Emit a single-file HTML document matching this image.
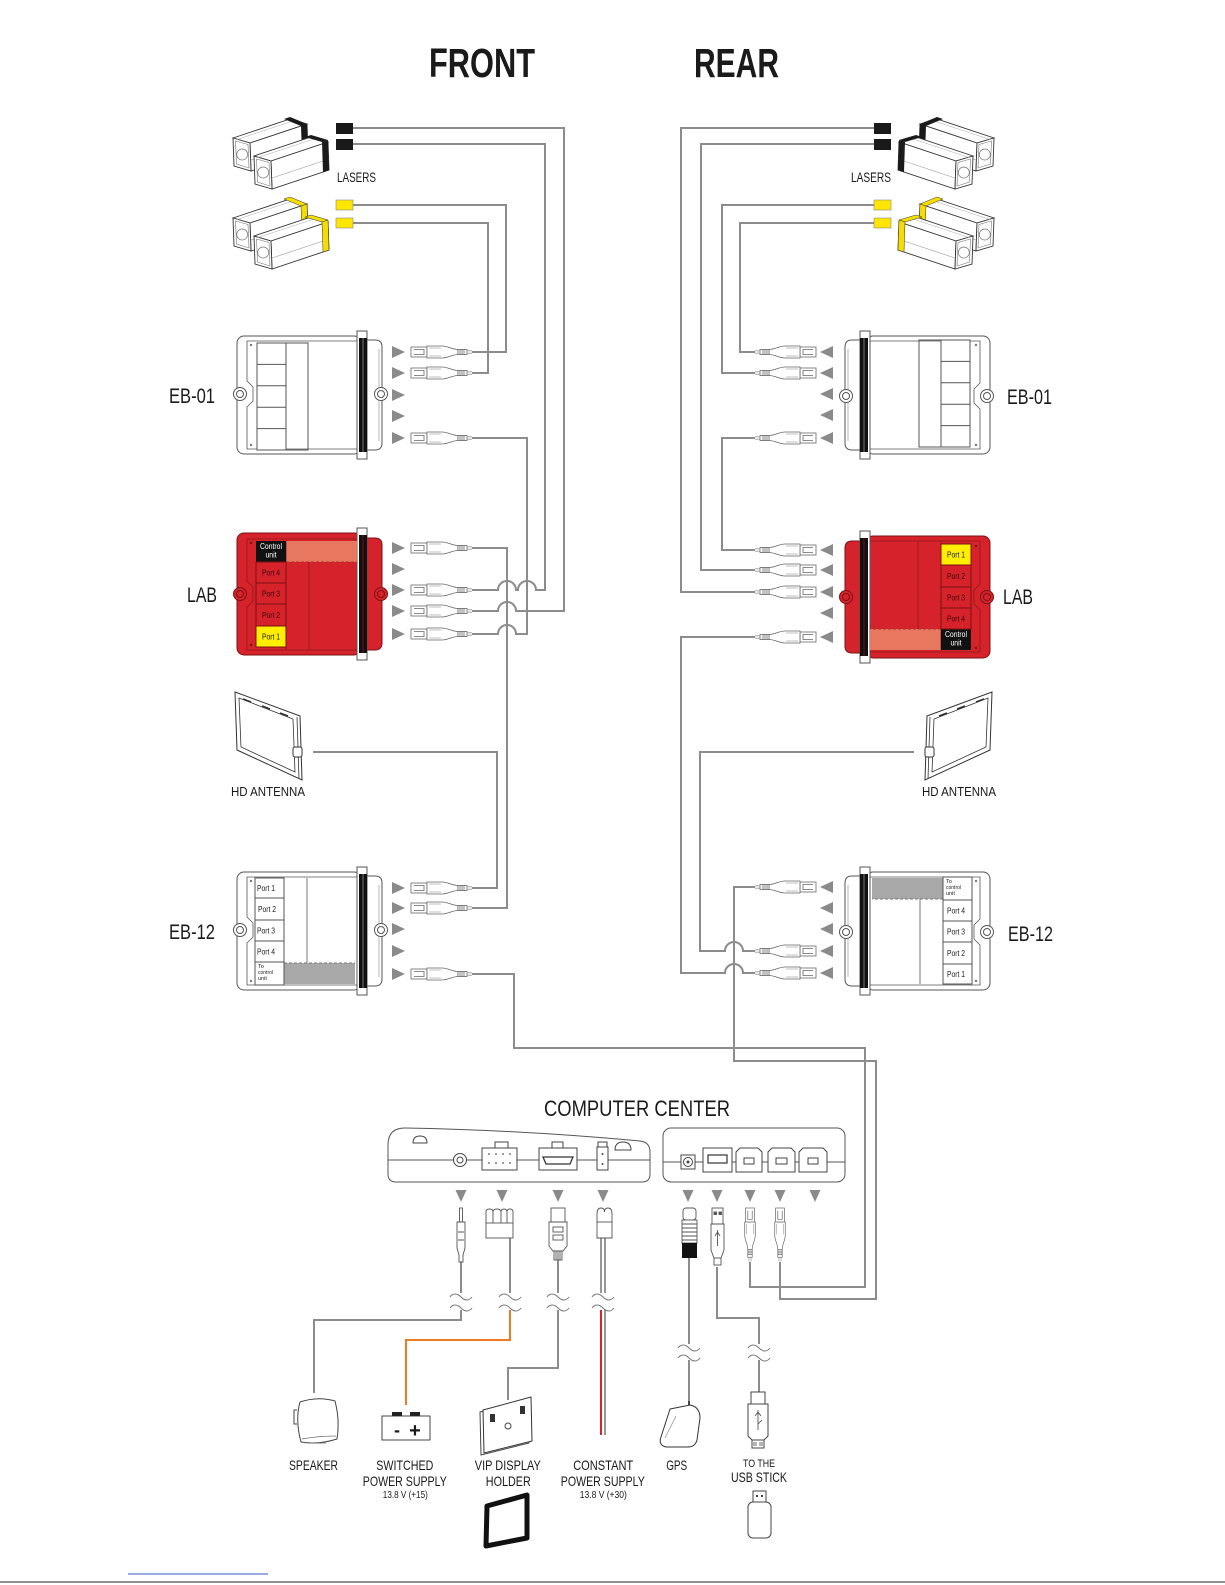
<!DOCTYPE html>
<html><head><meta charset="utf-8">
<style>
html,body{margin:0;padding:0;background:#fff;}
svg{display:block;}
text{font-family:"Liberation Sans",sans-serif;fill:#1a1a1a;}
.ln{fill:none;stroke:#8c8c8c;stroke-width:2;}
.tl{fill:none;stroke:#777;stroke-width:1;}
</style></head><body>
<svg width="1225" height="1585" viewBox="0 0 1225 1585" xmlns="http://www.w3.org/2000/svg">
<defs>
 <g id="laserOne">
  <polygon points="0,0 57,-19 74,-14 17,5" fill="#fff" stroke="#333" stroke-width="0.9"/>
  <polygon points="17,5 74,-14 75,14 18,33" fill="#fff" stroke="#333" stroke-width="0.9"/>
  <polygon points="0,0 17,5 18,33 1,28" fill="#fff" stroke="#333" stroke-width="0.9"/>
  <polygon points="2.5,3 15,6.5 16,30 3.5,26" fill="none" stroke="#777" stroke-width="0.6"/>
  <circle cx="9.2" cy="16.5" r="5.5" fill="none" stroke="#777" stroke-width="0.7"/>
  <line x1="18" y1="22" x2="75" y2="3" stroke="#999" stroke-width="0.6"/>
  <line x1="4" y1="1.5" x2="60" y2="-17" stroke="#aaa" stroke-width="0.5"/>
 </g>
 <g id="conn" stroke="#666" stroke-width="0.8">
  <rect x="0" y="-5" width="16" height="10" fill="#fff"/>
  <path d="M3,-2.5 H13 V2.5 H3" fill="none"/>
  <path d="M16,-6 H31 C37,-6 41,-2.5 47,-2.5 V2.5 C41,2.5 37,6 31,6 H16 Z" fill="#fff"/>
  <path d="M18,-4 H30 M18,4 H30" fill="none" stroke="#aaa"/>
  <rect x="47" y="-2.5" width="9" height="5" fill="#fff"/>
  <path d="M49,-2.5 V2.5 M51,-2.5 V2.5 M53,-2.5 V2.5" fill="none"/>
  <path d="M56,-1.2 H61 M56,1.2 H61" fill="none" stroke="#999"/>
 </g>
 <polygon id="arr" points="0,-6 0,6 13,0" fill="#8a8a8a"/>
 <polygon id="darr" points="-5.5,0 5.5,0 0,12" fill="#8a8a8a"/>
 <path id="tilde" d="M-11,1 c3,-4 7,-4 11,0 s8,4 11,0" fill="none" stroke="#777" stroke-width="1"/>
 <g id="ebshell">
  <rect x="4" y="1" width="124" height="118" rx="7" fill="#fff" stroke="#555"/>
  <path d="M128,5 H142 Q149,5 149,12 V108 Q149,115 142,115 H128" fill="#fff" stroke="#555"/>
  <line x1="146" y1="14" x2="146" y2="106" stroke="#999" stroke-width="0.7"/>
  <circle cx="7" cy="59" r="6.5" fill="#fff" stroke="#555"/><circle cx="7" cy="59" r="3.5" fill="none" stroke="#555"/>
  <circle cx="148" cy="59" r="6.5" fill="#fff" stroke="#555"/><circle cx="148" cy="59" r="3.5" fill="none" stroke="#555"/>
  <path d="M14,6 V46 L20,52 V66 L14,72 V114 H124 V6 Z" fill="none" stroke="#555" stroke-width="0.8"/>
  <rect x="124" y="-4" width="10" height="128" fill="#fff" stroke="#555"/>
  <rect x="126" y="3" width="8" height="114" fill="#111"/>
  <line x1="130" y1="3" x2="130" y2="117" stroke="#777"/>
  <circle cx="18" cy="10" r="1.2" fill="#777"/><circle cx="18" cy="110" r="1.2" fill="#777"/>
 </g>
 <g id="labshell">
  <rect x="4" y="0" width="124" height="122" rx="7" fill="#d6232b" stroke="#7a1216"/>
  <path d="M128,5 H142 Q149,5 149,12 V110 Q149,117 142,117 H128" fill="#d6232b" stroke="#7a1216"/>
  <circle cx="7" cy="61" r="6.5" fill="#d6232b" stroke="#7a1216"/><circle cx="7" cy="61" r="3.5" fill="none" stroke="#7a1216"/>
  <circle cx="148" cy="61" r="6.5" fill="#d6232b" stroke="#7a1216"/><circle cx="148" cy="61" r="3.5" fill="none" stroke="#7a1216"/>
  <path d="M14,6 V48 L20,54 V68 L14,74 V117 H124 V6 Z" fill="none" stroke="#8a1a1a" stroke-width="0.8"/>
  <rect x="124" y="-5" width="10" height="132" fill="#fff" stroke="#555"/>
  <rect x="126" y="2" width="8" height="118" fill="#111"/>
  <line x1="130" y1="2" x2="130" y2="120" stroke="#6a1010"/>
  <circle cx="18" cy="10" r="1.2" fill="#7a1216"/><circle cx="18" cy="112" r="1.2" fill="#7a1216"/>
 </g>
 <g id="antenna">
  <polygon points="235,692 300,716 302,780 237,750" fill="#fff" stroke="#333" stroke-width="1"/>
  <polygon points="239,698 293,719 295,772 241,747" fill="#fff" stroke="#333" stroke-width="0.8"/>
  <line x1="297" y1="717" x2="299" y2="779" stroke="#333" stroke-width="0.8"/>
  <path d="M243,699 l8,3 M262,706 l8,3 M280,713 l8,3" stroke="#333" stroke-width="1.5"/>
  <rect x="293" y="747" width="9" height="10" rx="2" fill="#fff" stroke="#333"/>
 </g>
</defs>

<!-- titles -->
<text x="429" y="77" font-size="41" font-weight="bold" textLength="106" lengthAdjust="spacingAndGlyphs">FRONT</text>
<text x="694" y="77" font-size="41" font-weight="bold" textLength="85" lengthAdjust="spacingAndGlyphs">REAR</text>

<!-- wiring lines -->
<path class="ln" d="M353,205 H506 V352 H472"/>
<path class="ln" d="M353,223 H488 V373 H472"/>
<path class="ln" d="M353,128 H564 V611 H516 A9,9 0 0 0 498,611 H472"/>
<path class="ln" d="M353,144 H545 V590 H536 A9,9 0 0 0 518,590 H516 A9,9 0 0 0 498,590 H472"/>
<path class="ln" d="M472,438 H527 V634 H516 A9,9 0 0 0 498,634 H472"/>
<path class="ln" d="M472,548 H507 V908 H472"/>
<path class="ln" d="M313,752 H497 V888 H472"/>
<path class="ln" d="M472,974 H514 V1048 H865 V1287 H750 V1262"/>

<path class="ln" d="M874,128 H681 V592 H755"/>
<path class="ln" d="M874,144 H701 V570 H755"/>
<path class="ln" d="M874,205 H722 V373 H755"/>
<path class="ln" d="M874,223 H740 V352 H755"/>
<path class="ln" d="M755,438 H722 V550 H755"/>
<path class="ln" d="M755,973 H743 A9,9 0 0 0 725,973 H681 V637 H755"/>
<path class="ln" d="M755,951 H743 A9,9 0 0 0 725,951 H700 V752 H914"/>
<path class="ln" d="M755,887 H734 V1061 H876 V1299 H780 V1262"/>

<!-- front lasers -->
<g id="frontLasers">
 <use href="#laserOne" transform="translate(233,138)"/>
 <polygon points="284,119 290,117 307,124 301,126" fill="#1a1a1a"/>
 <polygon points="301,126 307,124 308,152 302,154" fill="#1a1a1a"/>
 <use href="#laserOne" transform="translate(254,156)"/>
 <polygon points="305,137 311,135 328,140 322,142" fill="#1a1a1a"/>
 <polygon points="322,142 328,140 329,170 323,172" fill="#1a1a1a"/>
 <rect x="336" y="123" width="17" height="11" fill="#1a1a1a"/>
 <rect x="336" y="139" width="17" height="11" fill="#1a1a1a"/>
 <g transform="translate(0,80)">
  <use href="#laserOne" transform="translate(233,138)"/>
  <polygon points="284,119 290,117 307,124 301,126" fill="#f5dd00" stroke="#333" stroke-width="0.5"/>
  <polygon points="301,126 307,124 308,152 302,154" fill="#f5dd00" stroke="#333" stroke-width="0.5"/>
  <use href="#laserOne" transform="translate(254,156)"/>
  <polygon points="305,137 311,135 328,140 322,142" fill="#f5dd00" stroke="#333" stroke-width="0.5"/>
  <polygon points="322,142 328,140 329,170 323,172" fill="#f5dd00" stroke="#333" stroke-width="0.5"/>
  <rect x="336" y="120" width="17" height="10" fill="#ffe600" stroke="#888" stroke-width="0.6"/>
  <rect x="336" y="138" width="17" height="10" fill="#ffe600" stroke="#888" stroke-width="0.6"/>
 </g>
</g>
<g transform="matrix(-1,0,0,1,1227,0)">
 <use href="#frontLasers"/>
</g>
<text x="337" y="182" font-size="14" textLength="39" lengthAdjust="spacingAndGlyphs">LASERS</text>
<text x="851" y="182" font-size="14" textLength="40" lengthAdjust="spacingAndGlyphs">LASERS</text>

<!-- antennas -->
<use href="#antenna"/>
<g transform="matrix(-1,0,0,1,1227,0)"><use href="#antenna"/></g>
<text x="231" y="796" font-size="13" textLength="74" lengthAdjust="spacingAndGlyphs">HD ANTENNA</text>
<text x="922" y="796" font-size="13" textLength="74" lengthAdjust="spacingAndGlyphs">HD ANTENNA</text>

<!-- FRONT EB-01 -->
<g transform="translate(233,335)">
 <use href="#ebshell"/>
 <rect x="24" y="8" width="29" height="107" fill="#fff" stroke="#555"/>
 <path d="M24,29.4 H53 M24,50.8 H53 M24,72.2 H53 M24,93.6 H53" stroke="#555"/>
 <rect x="53" y="8" width="22" height="107" fill="none" stroke="#555"/>
</g>
<!-- REAR EB-01 -->
<g transform="translate(994,455) rotate(180)">
 <use href="#ebshell"/>
 <rect x="24" y="8" width="29" height="107" fill="#fff" stroke="#555"/>
 <path d="M24,29.4 H53 M24,50.8 H53 M24,72.2 H53 M24,93.6 H53" stroke="#555"/>
 <rect x="53" y="8" width="22" height="107" fill="none" stroke="#555"/>
</g>

<!-- FRONT LAB -->
<g transform="translate(233,533)">
 <use href="#labshell"/>
 <rect x="53" y="8" width="71" height="21" fill="#e8775f"/>
 <line x1="53" y1="29" x2="124" y2="29" stroke="#a33" stroke-dasharray="3,2"/>
 <line x1="76" y1="29" x2="76" y2="117" stroke="#8a1a1a" stroke-width="0.8"/>
 <line x1="53" y1="8" x2="53" y2="117" stroke="#8a1a1a" stroke-width="0.8"/>
 <rect x="23" y="8" width="30" height="21" fill="#111"/>
 <rect x="23" y="29" width="30" height="21" fill="#d6232b" stroke="#7a1216"/>
 <rect x="23" y="50" width="30" height="21" fill="#d6232b" stroke="#7a1216"/>
 <rect x="23" y="71" width="30" height="22" fill="#d6232b" stroke="#7a1216"/>
 <rect x="23" y="93" width="30" height="21" fill="#ffee00" stroke="#7a1216"/>
</g>
<!-- REAR LAB -->
<g transform="translate(994,658) rotate(180)">
 <use href="#labshell"/>
 <rect x="53" y="8" width="71" height="21" fill="#e8775f"/>
 <line x1="53" y1="29" x2="124" y2="29" stroke="#a33" stroke-dasharray="3,2"/>
 <line x1="76" y1="29" x2="76" y2="117" stroke="#8a1a1a" stroke-width="0.8"/>
 <line x1="53" y1="8" x2="53" y2="117" stroke="#8a1a1a" stroke-width="0.8"/>
 <rect x="23" y="8" width="30" height="21" fill="#111"/>
 <rect x="23" y="29" width="30" height="21" fill="#d6232b" stroke="#7a1216"/>
 <rect x="23" y="50" width="30" height="21" fill="#d6232b" stroke="#7a1216"/>
 <rect x="23" y="71" width="30" height="22" fill="#d6232b" stroke="#7a1216"/>
 <rect x="23" y="93" width="30" height="21" fill="#ffee00" stroke="#7a1216"/>
</g>

<!-- FRONT EB-12 -->
<g transform="translate(233,871)">
 <use href="#ebshell"/>
 <rect x="51" y="92" width="71" height="21" fill="#a8a8a8"/>
 <line x1="51" y1="92" x2="122" y2="92" stroke="#777" stroke-dasharray="3,2"/>
 <line x1="74" y1="7" x2="74" y2="92" stroke="#555" stroke-width="0.8"/>
 <rect x="22" y="7" width="29" height="20" fill="#fff" stroke="#555"/>
 <rect x="22" y="27" width="29" height="22" fill="#fff" stroke="#555"/>
 <rect x="22" y="49" width="29" height="21" fill="#fff" stroke="#555"/>
 <rect x="22" y="70" width="29" height="21" fill="#fff" stroke="#555"/>
 <rect x="22" y="91" width="29" height="23" fill="#fff" stroke="#555"/>
</g>
<!-- REAR EB-12 -->
<g transform="translate(994,991) rotate(180)">
 <use href="#ebshell"/>
 <rect x="51" y="92" width="71" height="21" fill="#a8a8a8"/>
 <line x1="51" y1="92" x2="122" y2="92" stroke="#777" stroke-dasharray="3,2"/>
 <line x1="74" y1="7" x2="74" y2="92" stroke="#555" stroke-width="0.8"/>
 <rect x="22" y="7" width="29" height="20" fill="#fff" stroke="#555"/>
 <rect x="22" y="27" width="29" height="22" fill="#fff" stroke="#555"/>
 <rect x="22" y="49" width="29" height="21" fill="#fff" stroke="#555"/>
 <rect x="22" y="70" width="29" height="21" fill="#fff" stroke="#555"/>
 <rect x="22" y="91" width="29" height="23" fill="#fff" stroke="#555"/>
</g>

<!-- cell labels front LAB -->
<g font-size="8" text-anchor="middle">
 <text x="271" y="549" fill="#fff" style="fill:#fff" textLength="22" lengthAdjust="spacingAndGlyphs">Control</text>
 <text x="271" y="557.5" style="fill:#fff" textLength="11" lengthAdjust="spacingAndGlyphs">unit</text>
 <text x="271" y="575.5" style="fill:#3a0808" textLength="18" lengthAdjust="spacingAndGlyphs">Port 4</text>
 <text x="271" y="596.5" style="fill:#3a0808" textLength="18" lengthAdjust="spacingAndGlyphs">Port 3</text>
 <text x="271" y="618" style="fill:#3a0808" textLength="18" lengthAdjust="spacingAndGlyphs">Port 2</text>
 <text x="271" y="639.5" textLength="18" lengthAdjust="spacingAndGlyphs">Port 1</text>
 <!-- rear LAB -->
 <text x="956" y="557.5" textLength="18" lengthAdjust="spacingAndGlyphs">Port 1</text>
 <text x="956" y="579" style="fill:#3a0808" textLength="18" lengthAdjust="spacingAndGlyphs">Port 2</text>
 <text x="956" y="600.5" style="fill:#3a0808" textLength="18" lengthAdjust="spacingAndGlyphs">Port 3</text>
 <text x="956" y="621.5" style="fill:#3a0808" textLength="18" lengthAdjust="spacingAndGlyphs">Port 4</text>
 <text x="956" y="637" style="fill:#fff" textLength="22" lengthAdjust="spacingAndGlyphs">Control</text>
 <text x="956" y="645.5" style="fill:#fff" textLength="11" lengthAdjust="spacingAndGlyphs">unit</text>
 <!-- front EB-12 -->
 <text x="266" y="891" textLength="18" lengthAdjust="spacingAndGlyphs">Port 1</text>
 <text x="267" y="912" textLength="18" lengthAdjust="spacingAndGlyphs">Port 2</text>
 <text x="266" y="933.5" textLength="18" lengthAdjust="spacingAndGlyphs">Port 3</text>
 <text x="266" y="954.5" textLength="18" lengthAdjust="spacingAndGlyphs">Port 4</text>
 <!-- rear EB-12 -->
 <text x="956" y="913.5" textLength="18" lengthAdjust="spacingAndGlyphs">Port 4</text>
 <text x="956" y="934.5" textLength="18" lengthAdjust="spacingAndGlyphs">Port 3</text>
 <text x="956" y="956" textLength="18" lengthAdjust="spacingAndGlyphs">Port 2</text>
 <text x="956" y="977" textLength="18" lengthAdjust="spacingAndGlyphs">Port 1</text>
</g>
<g font-size="5.5">
 <text x="258" y="968">To</text>
 <text x="258" y="974" textLength="15" lengthAdjust="spacingAndGlyphs">control</text>
 <text x="258" y="980">unit</text>
 <text x="946" y="883">To</text>
 <text x="946" y="889" textLength="15" lengthAdjust="spacingAndGlyphs">control</text>
 <text x="946" y="895">unit</text>
</g>

<!-- arrows & connectors front -->
<g>
 <use href="#arr" x="392" y="352"/><use href="#arr" x="392" y="373"/><use href="#arr" x="392" y="395"/><use href="#arr" x="392" y="416"/><use href="#arr" x="392" y="438"/>
 <use href="#arr" x="392" y="548"/><use href="#arr" x="392" y="569"/><use href="#arr" x="392" y="590"/><use href="#arr" x="392" y="611"/><use href="#arr" x="392" y="634"/>
 <use href="#arr" x="392" y="888"/><use href="#arr" x="392" y="908"/><use href="#arr" x="392" y="929"/><use href="#arr" x="392" y="951"/><use href="#arr" x="392" y="974"/>
 <use href="#conn" x="411" y="352"/><use href="#conn" x="411" y="373"/><use href="#conn" x="411" y="438"/>
 <use href="#conn" x="411" y="548"/><use href="#conn" x="411" y="590"/><use href="#conn" x="411" y="611"/><use href="#conn" x="411" y="634"/>
 <use href="#conn" x="411" y="888"/><use href="#conn" x="411" y="908"/><use href="#conn" x="411" y="974"/>
</g>
<!-- arrows & connectors rear (mirrored) -->
<g transform="matrix(-1,0,0,1,1227,0)">
 <use href="#arr" x="394" y="352"/><use href="#arr" x="394" y="373"/><use href="#arr" x="394" y="394"/><use href="#arr" x="394" y="415"/><use href="#arr" x="394" y="438"/>
 <use href="#arr" x="394" y="550"/><use href="#arr" x="394" y="570"/><use href="#arr" x="394" y="592"/><use href="#arr" x="394" y="613"/><use href="#arr" x="394" y="637"/>
 <use href="#arr" x="394" y="887"/><use href="#arr" x="394" y="908"/><use href="#arr" x="394" y="929"/><use href="#arr" x="394" y="951"/><use href="#arr" x="394" y="973"/>
 <use href="#conn" x="411" y="352"/><use href="#conn" x="411" y="373"/><use href="#conn" x="411" y="438"/>
 <use href="#conn" x="411" y="550"/><use href="#conn" x="411" y="570"/><use href="#conn" x="411" y="592"/><use href="#conn" x="411" y="637"/>
 <use href="#conn" x="411" y="887"/><use href="#conn" x="411" y="951"/><use href="#conn" x="411" y="973"/>
</g>

<!-- box labels -->
<g font-size="21">
 <text x="169" y="403" textLength="46" lengthAdjust="spacingAndGlyphs">EB-01</text>
 <text x="187" y="602" textLength="30" lengthAdjust="spacingAndGlyphs">LAB</text>
 <text x="169" y="939" textLength="46" lengthAdjust="spacingAndGlyphs">EB-12</text>
 <text x="1007" y="404" textLength="45" lengthAdjust="spacingAndGlyphs">EB-01</text>
 <text x="1003" y="604" textLength="30" lengthAdjust="spacingAndGlyphs">LAB</text>
 <text x="1008" y="941" textLength="45" lengthAdjust="spacingAndGlyphs">EB-12</text>
</g>

<!-- COMPUTER CENTER -->
<text x="544" y="1116" font-size="22" textLength="186" lengthAdjust="spacingAndGlyphs">COMPUTER CENTER</text>
<path d="M388,1145 Q388,1128 405,1128 Q520,1130 640,1141 Q650,1142 650,1152 V1174 Q650,1182 642,1182 H396 Q388,1182 388,1174 Z" fill="#fff" stroke="#555" stroke-width="1"/>
<line x1="388" y1="1160" x2="650" y2="1160" stroke="#555"/>
<path d="M413,1143 Q413,1136 420,1136 Q427,1136 427,1143 Z" fill="#fff" stroke="#444"/>
<path d="M615,1150 Q615,1142 623,1142 Q631,1142 631,1150 Z" fill="#fff" stroke="#444"/>
<circle cx="460" cy="1160" r="6.5" fill="#fff" stroke="#444"/><circle cx="460" cy="1160" r="3" fill="#fff" stroke="#444"/>
<rect x="495" y="1142" width="13" height="6" fill="#fff" stroke="#444"/>
<rect x="482" y="1148" width="35" height="22" fill="#fff" stroke="#444"/>
<g fill="#555"><circle cx="489" cy="1154" r="0.9"/><circle cx="496" cy="1154" r="0.9"/><circle cx="503" cy="1154" r="0.9"/><circle cx="510" cy="1154" r="0.9"/><circle cx="489" cy="1163" r="0.9"/><circle cx="496" cy="1163" r="0.9"/><circle cx="503" cy="1163" r="0.9"/><circle cx="510" cy="1163" r="0.9"/></g>
<rect x="552" y="1142" width="11" height="6" fill="#fff" stroke="#444"/>
<rect x="539" y="1148" width="38" height="22" fill="#fff" stroke="#444"/>
<path d="M543,1157 H573 L570,1164 H546 Z" fill="#fff" stroke="#333" stroke-width="1.3"/>
<rect x="598" y="1142" width="9" height="5" fill="#fff" stroke="#444"/>
<rect x="597" y="1147" width="11" height="23" fill="#fff" stroke="#444"/>
<circle cx="602.5" cy="1154" r="1" fill="#444"/><circle cx="602.5" cy="1164" r="1" fill="#444"/>

<rect x="663" y="1128" width="182" height="54" rx="8" fill="#fff" stroke="#555"/>
<line x1="663" y1="1162" x2="845" y2="1162" stroke="#555"/>
<rect x="681" y="1155" width="14" height="14" fill="#fff" stroke="#444"/>
<circle cx="688" cy="1162" r="4.5" fill="#fff" stroke="#444"/><circle cx="688" cy="1162" r="1.5" fill="#444"/>
<rect x="703" y="1148" width="29" height="24" fill="#fff" stroke="#444"/>
<rect x="708" y="1155" width="19" height="8" fill="#fff" stroke="#333" stroke-width="1.2"/>
<g fill="#fff" stroke="#444">
 <path d="M736,1152 L740,1148 H758 L762,1152 V1172 H736 Z"/>
 <rect x="744" y="1158" width="10" height="6"/>
 <path d="M768,1152 L772,1148 H791 L795,1152 V1172 H768 Z"/>
 <rect x="776" y="1158" width="11" height="6"/>
 <path d="M799,1152 L803,1148 H823 L827,1152 V1172 H799 Z"/>
 <rect x="808" y="1158" width="10" height="6"/>
</g>

<!-- down arrows -->
<use href="#darr" x="461" y="1190"/><use href="#darr" x="502" y="1190"/><use href="#darr" x="558" y="1190"/><use href="#darr" x="603" y="1190"/>
<use href="#darr" x="688" y="1190"/><use href="#darr" x="717" y="1190"/><use href="#darr" x="750" y="1190"/><use href="#darr" x="780" y="1190"/><use href="#darr" x="815" y="1190"/>

<!-- cables bottom -->
<path class="ln" d="M461,1262 V1293"/>
<path class="ln" d="M461,1310 V1320 H314 V1393"/>
<path class="ln" d="M510,1238 V1293"/>
<path d="M510,1310 V1340 H406 V1405" fill="none" stroke="#f07a22" stroke-width="2"/>
<path class="ln" d="M558,1260 V1293"/>
<path class="ln" d="M558,1310 V1368 H508 V1400"/>
<path d="M601,1238 V1293 M605,1238 V1293" fill="none" stroke="#8c8c8c" stroke-width="1.8"/>
<path d="M601,1310 V1435" fill="none" stroke="#e0202a" stroke-width="2"/>
<path d="M605,1310 V1435" fill="none" stroke="#8c8c8c" stroke-width="1.8"/>
<path class="ln" d="M689,1258 V1344"/>
<path class="ln" d="M689,1360 V1407"/>
<path class="ln" d="M717,1267 V1318 H759 V1344"/>
<path class="ln" d="M759,1360 V1392"/>

<use href="#tilde" x="461" y="1296"/><use href="#tilde" x="461" y="1307"/>
<use href="#tilde" x="510" y="1296"/><use href="#tilde" x="510" y="1307"/>
<use href="#tilde" x="558" y="1296"/><use href="#tilde" x="558" y="1307"/>
<use href="#tilde" x="603" y="1296"/><use href="#tilde" x="603" y="1307"/>
<use href="#tilde" x="689" y="1347"/><use href="#tilde" x="689" y="1357"/>
<use href="#tilde" x="759" y="1347"/><use href="#tilde" x="759" y="1357"/>

<!-- plugs -->
<g fill="#fff" stroke="#555" stroke-width="0.9">
 <rect x="459.5" y="1208" width="3" height="14"/>
 <path d="M457,1222 H465 V1248 L463,1255 V1262 H459 V1255 L457,1248 Z"/>
 <path d="M458,1232 H464 M458,1240 H464" fill="none"/>
 <path d="M486,1223 V1212 Q486,1209 489.5,1209 Q493,1209 493,1212 V1223 M493,1212 Q493,1209 497,1209 Q501,1209 501,1212 V1223 M501,1212 Q501,1209 504,1209 Q507,1209 507,1212 V1223 M507,1212 Q507,1209 510,1209 Q513,1209 513,1212 V1223"/>
 <rect x="486" y="1223" width="27" height="15"/>
 <rect x="551" y="1208" width="14" height="14"/>
 <path d="M549,1222 H567 V1246 L563,1251 H553 L549,1246 Z"/>
 <rect x="553" y="1227" width="10" height="5"/>
 <rect x="553" y="1235" width="10" height="5"/>
 <rect x="554" y="1251" width="8" height="9"/>
 <path d="M556,1251 V1260 M558,1251 V1260 M560,1251 V1260" fill="none"/>
 <path d="M597,1214 Q597,1208 601,1208 Q604.5,1208 604.5,1212 Q604.5,1208 608,1208 Q612,1208 612,1214 V1238 H597 Z"/>
 <line x1="597" y1="1222" x2="612" y2="1222"/>
 <rect x="683" y="1208" width="13" height="12" rx="3"/>
 <rect x="682" y="1220" width="15" height="23"/>
 <path d="M682,1224 H697 M682,1228 H697 M682,1232 H697 M682,1236 H697 M682,1240 H697" fill="none"/>
 <rect x="712" y="1208" width="11" height="16"/>
 <rect x="714" y="1212" width="2.5" height="2.5" fill="#555"/><rect x="719" y="1212" width="2.5" height="2.5" fill="#555"/>
 <path d="M711,1224 H724 V1250 L721,1258 H714 L711,1250 Z"/>
 <path d="M717.5,1230 V1246 M715,1236 L717.5,1232 L720,1236" fill="none"/>
 <rect x="714" y="1258" width="7" height="7"/>
</g>
<rect x="682" y="1243" width="15" height="15" fill="#111"/>
<use href="#conn" transform="translate(750,1208) rotate(90) scale(0.88)"/>
<use href="#conn" transform="translate(780,1208) rotate(90) scale(0.88)"/>

<!-- bottom devices -->
<path d="M300,1402 Q318,1396 335,1401 Q340,1420 337,1439 Q318,1445 301,1442 Q295,1420 300,1402 Z" fill="#fff" stroke="#444"/>
<path d="M297,1410 H294 V1424 H297" fill="#fff" stroke="#444"/>
<path d="M302,1439 Q318,1436 336,1436 M310,1443 H326" fill="none" stroke="#666" stroke-width="0.8"/>

<rect x="382" y="1416" width="48" height="24" fill="#fff" stroke="#444"/>
<rect x="392" y="1412" width="10" height="4" fill="#222"/>
<rect x="410" y="1412" width="10" height="4" fill="#222"/>
<text x="397" y="1436" font-size="18" font-weight="bold" text-anchor="middle">-</text>
<text x="415" y="1437" font-size="20" font-weight="bold" text-anchor="middle">+</text>

<polygon points="480,1412 528,1399 529,1443 481,1455" fill="#fff" stroke="#444"/>
<polygon points="483,1410 531,1397 532,1441 484,1453" fill="#fff" stroke="#333"/>
<rect x="490" y="1414" width="5" height="8" fill="#333"/>
<rect x="520" y="1406" width="5" height="8" fill="#333"/>
<circle cx="508" cy="1426" r="3" fill="#fff" stroke="#444"/>

<polygon points="487,1506 527,1495 527,1538 486,1546" fill="#fff" stroke="#111" stroke-width="5" stroke-linejoin="round"/>

<path d="M689,1401 V1407" stroke="#444" stroke-width="2"/>
<path d="M670,1409 L690,1405 Q700,1407 700,1418 L697,1440 Q695,1447 688,1447 L666,1447 Q658,1445 661,1437 Z" fill="#fff" stroke="#333"/>
<path d="M665,1438 L676,1416" fill="none" stroke="#888" stroke-width="0.7"/>

<rect x="751" y="1392" width="14" height="12" fill="#fff" stroke="#444"/>
<path d="M748,1404 H768 V1436 L764,1440 H752 L748,1436 Z" fill="#fff" stroke="#444"/>
<path d="M758,1410 V1430 M755,1416 L758,1412 L761,1416 M758,1424 L762,1420" fill="none" stroke="#444" stroke-width="0.8"/>
<rect x="752" y="1440" width="12" height="8" fill="#fff" stroke="#444"/>
<path d="M754,1442 V1446 M756,1442 V1446 M760,1442 V1446 M762,1442 V1446" stroke="#444" stroke-width="0.8"/>

<rect x="753" y="1491" width="13" height="12" fill="#fff" stroke="#444"/>
<rect x="756" y="1495" width="2" height="2" fill="#444"/><rect x="761" y="1495" width="2" height="2" fill="#444"/>
<rect x="748" y="1502" width="23" height="36" rx="5" fill="#fff" stroke="#444"/>

<!-- bottom labels -->
<g font-size="14" text-anchor="middle">
 <text x="313.5" y="1470" textLength="49" lengthAdjust="spacingAndGlyphs">SPEAKER</text>
 <text x="404.8" y="1470" textLength="57" lengthAdjust="spacingAndGlyphs">SWITCHED</text>
 <text x="404.8" y="1486" textLength="84" lengthAdjust="spacingAndGlyphs">POWER SUPPLY</text>
 <text x="507.8" y="1470" textLength="66" lengthAdjust="spacingAndGlyphs">VIP DISPLAY</text>
 <text x="508.3" y="1486" textLength="45" lengthAdjust="spacingAndGlyphs">HOLDER</text>
 <text x="603.2" y="1470" textLength="60" lengthAdjust="spacingAndGlyphs">CONSTANT</text>
 <text x="602.8" y="1486" textLength="84" lengthAdjust="spacingAndGlyphs">POWER SUPPLY</text>
 <text x="676.7" y="1470" textLength="21" lengthAdjust="spacingAndGlyphs">GPS</text>
 <text x="759" y="1482" textLength="56" lengthAdjust="spacingAndGlyphs">USB STICK</text>
</g>
<g font-size="10" text-anchor="middle">
 <text x="405.3" y="1498" textLength="45" lengthAdjust="spacingAndGlyphs">13.8 V (+15)</text>
 <text x="603.3" y="1498" textLength="47" lengthAdjust="spacingAndGlyphs">13.8 V (+30)</text>
 <text x="759" y="1467" font-size="11" textLength="32" lengthAdjust="spacingAndGlyphs">TO THE</text>
</g>

<!-- bottom page lines -->
<line x1="128" y1="1574" x2="268" y2="1574" stroke="#3355cc" stroke-width="1"/>
<line x1="0" y1="1582" x2="1225" y2="1582" stroke="#222" stroke-width="1"/>
</svg>
</body></html>
